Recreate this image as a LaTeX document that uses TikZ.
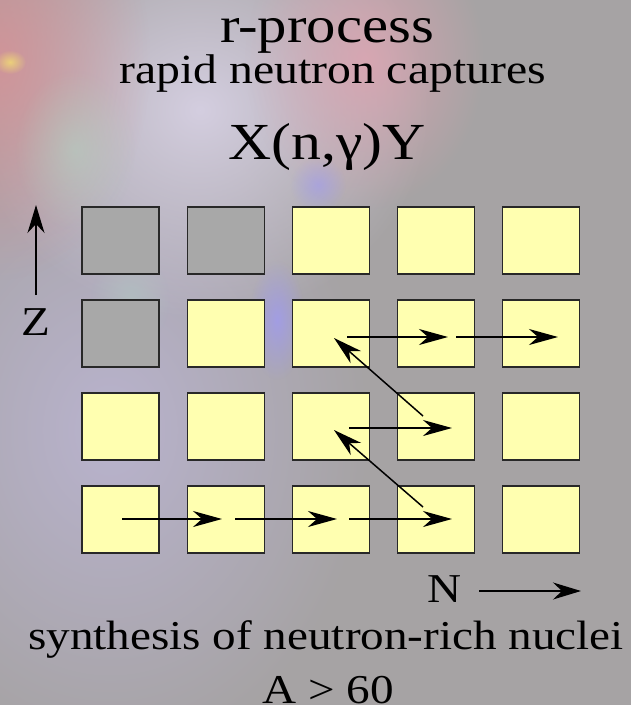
\documentclass[tikz,border=0pt]{standalone}
\usepackage{fontspec}
\setmainfont[FakeStretch=1.15]{Liberation Serif}
\usetikzlibrary{arrows.meta,fadings}
\tikzfading[name=softblob, inner color=transparent!0, outer color=transparent!100]
\definecolor{bggray}{RGB}{166,163,164}
\definecolor{nucyellow}{RGB}{255,255,176}
\definecolor{nucgray}{RGB}{168,168,168}
\definecolor{boxedge}{RGB}{40,40,40}
\definecolor{blobred}{RGB}{215,145,150}
\definecolor{blobwhite}{RGB}{212,206,224}
\definecolor{blobpink}{RGB}{222,165,178}
\definecolor{blobgreen}{RGB}{175,215,195}
\definecolor{blobblue}{RGB}{160,155,240}
\definecolor{bloblav}{RGB}{186,180,208}
\tikzset{
  nuc/.style={draw=boxedge, line width=1.5pt, minimum width=77pt, minimum height=67pt, inner sep=0pt, fill=nucyellow},
  nucg/.style={nuc, fill=nucgray},
  flow/.style={line width=1.5pt, -{Stealth[length=29pt,width=16pt,inset=9pt]}},
  axis/.style={line width=1.5pt, -{Stealth[length=28pt,width=17pt,inset=9pt]}},
  lbl/.style={inner sep=0pt, anchor=base},
}
\begin{document}
\begin{tikzpicture}[x=1pt,y=-1pt]
\useasboundingbox (0,0) rectangle (631,705);
% background
\fill[bggray] (0,0) rectangle (631,705);
\fill[bloblav, path fading=softblob, opacity=0.95] (110,430) ellipse (260 and 330);
\fill[blobwhite, path fading=softblob, opacity=1] (200,110) ellipse (230 and 210);
\fill[blobred, path fading=softblob, opacity=0.85] (0,60) ellipse (150 and 220);
\fill[blobpink, path fading=softblob, opacity=0.85] (365,60) ellipse (120 and 150);
\fill[blobgreen, path fading=softblob, opacity=0.5] (75,150) ellipse (60 and 80);
\fill[blobgreen, path fading=softblob, opacity=0.35] (130,300) ellipse (40 and 50);
\fill[blobblue, path fading=softblob, opacity=0.8] (277,320) ellipse (28 and 60);
\fill[blobblue, path fading=softblob, opacity=0.6] (318,185) ellipse (28 and 28);
\fill[yellow!60!white, path fading=softblob, opacity=0.6] (10,62) ellipse (16 and 12);
% titles
\node[lbl, font=\fontsize{51}{58}\selectfont] (title) at (327,42) {r-process};
\node[lbl, font=\fontsize{41.5}{48}\selectfont] (sub) at (332.5,83) {rapid neutron captures};
\node[lbl, font=\fontsize{52}{60}\selectfont] (react) at (327,159) {X(n,γ)Y};
% grid
\foreach \c/\x in {1/120.5,2/226,3/331,4/436,5/541}{
  \foreach \r/\y in {1/240.5,2/333.5,3/426.5,4/519.5}{
    \node[nuc] (s\r\c) at (\x,\y) {};
  }
}
\node[nucg] at (s11) {};
\node[nucg] at (s12) {};
\node[nucg] at (s21) {};
% path coordinates
\coordinate (b1) at (122,519);
\coordinate (b2) at (222,519);
\coordinate (b3) at (235,519);
\coordinate (b4) at (337,519);
\coordinate (b5) at (349,519);
\coordinate (b6) at (452,519);
\coordinate (d1) at (423,507);
\coordinate (d2) at (334,430);
\coordinate (m1) at (349,428);
\coordinate (m2) at (452,428);
\coordinate (d3) at (423,416);
\coordinate (d4) at (334,338);
\coordinate (t1) at (347,337);
\coordinate (t2) at (448,337);
\coordinate (t3) at (456,337);
\coordinate (t4) at (558,337);
\draw[flow] (b1) -- (b2);
\draw[flow] (b3) -- (b4);
\draw[flow] (b5) -- (b6);
\draw[flow] (d1) -- (d2);
\draw[flow] (m1) -- (m2);
\draw[flow] (d3) -- (d4);
\draw[flow] (t1) -- (t2);
\draw[flow] (t3) -- (t4);
% axes
\coordinate (z0) at (36,295);
\coordinate (z1) at (36,205);
\draw[axis] (z0) -- (z1);
\node[lbl, font=\fontsize{41}{48}\selectfont] (zl) at (36,335) {Z};
\coordinate (n0) at (479,591);
\coordinate (n1) at (581,591);
\draw[axis] (n0) -- (n1);
\node[lbl, font=\fontsize{41}{48}\selectfont] (nl) at (445,602) {N};
% bottom texts
\node[lbl, font=\fontsize{41}{48}\selectfont] (syn) at (326,649) {synthesis of neutron-rich nuclei};
\node[lbl, font=\fontsize{41}{48}\selectfont] (amass) at (328,703) {A > 60};
\end{tikzpicture}
\end{document}
